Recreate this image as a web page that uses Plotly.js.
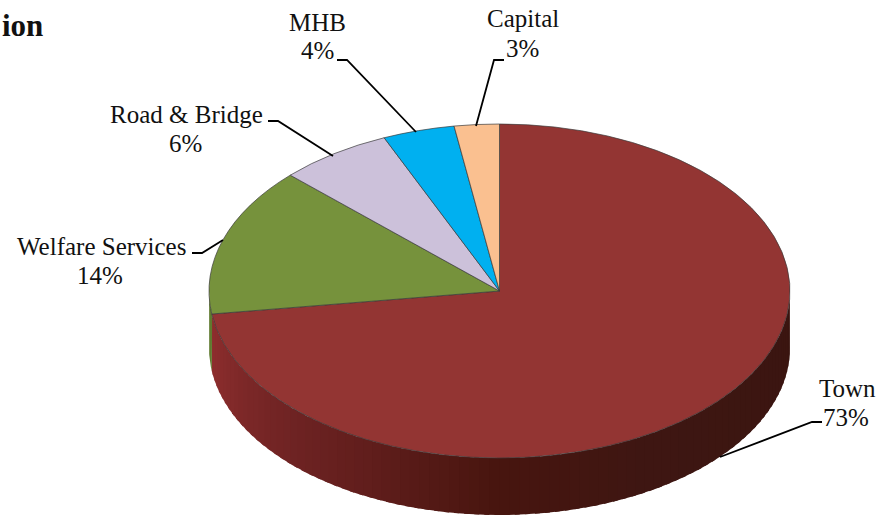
<!DOCTYPE html>
<html>
<head>
<meta charset="utf-8">
<script src="https://cdn.plot.ly/plotly-3.0.1.min.js"></script>
<style>html,body{margin:0;padding:0;background:#fff}#chart{width:880px;height:516px}</style>
</head>
<body>
<div id="chart"></div>
<script>
// Data
var categories = ["Town", "Welfare Services", "Road & Bridge", "MHB", "Capital"];
var shares = [72.8, 14.4, 6.3, 4.0, 2.5];
var shareLabels = ["73%", "14%", "6%", "4%", "3%"];
var sliceColors = ["#933533", "#76923c", "#ccc1da", "#00b0f0", "#fac090"];
var wallDarken = ["#5f7a2f"];

// Ellipse geometry of the tilted disc (pixels)
var CX = 499.5, CY = 291, RX = 290.5, RY = 167, DEPTH = 57;

// Label placement: [name x, name y, share x, share y]
var labelPos = [
  [847, 388, 846, 417],
  [101, 246, 100, 275],
  [186, 114, 185, 143],
  [317, 22, 317, 50],
  [523, 18, 522, 48]
];
var leaders = [
  "M822,422 L812,422 L720,457",
  "M192,253 L202,253 L223,240",
  "M268,121 L278,121 L333,156",
  "M337,60 L347,60 L416,132",
  "M504,60 L494,60 L476,126"
];

var total = shares.reduce(function (a, b) { return a + b; }, 0);
var townEnd = shares[0] / total * 360;

function hex(c) { return [1, 3, 5].map(function (i) { return parseInt(c.substr(i, 2), 16); }); }
var shadeStops = [[90, "#3a1510"], [150, "#3e1612"], [180, "#47150f"], [205, "#5f1d1b"], [225, "#6e2323"], [262, "#8f2e2e"]];
function shade(a) {
  for (var i = 0; i < shadeStops.length - 1; i++) {
    var s = shadeStops[i], e = shadeStops[i + 1];
    if (a <= e[0]) {
      var t = (a - s[0]) / (e[0] - s[0]), p = hex(s[1]), q = hex(e[1]);
      return "rgb(" + p.map(function (v, k) { return Math.round(v + (q[k] - v) * t); }).join(",") + ")";
    }
  }
  return shadeStops[shadeStops.length - 1][1];
}
function strip(a0, a1, color) {
  var xs = [], ys = [], a, r;
  for (a = a0; a <= a1 + 1e-6; a += 0.5) {
    r = a * Math.PI / 180;
    xs.push(CX + RX * Math.sin(r)); ys.push(CY - RY * Math.cos(r));
  }
  for (a = a1; a >= a0 - 1e-6; a -= 0.5) {
    r = a * Math.PI / 180;
    xs.push(CX + RX * Math.sin(r)); ys.push(CY - RY * Math.cos(r) + DEPTH);
  }
  return { type: "scatter", mode: "lines", x: xs, y: ys, fill: "toself", fillcolor: color,
           line: { color: color, width: 0 }, hoverinfo: "skip", showlegend: false };
}

var traces = [];
for (var a = 90; a < townEnd; a += 2) {
  traces.push(strip(a, Math.min(a + 3, townEnd), shade(a + 1)));
}
traces.push(strip(townEnd - 0.5, 272, wallDarken[0]));
traces.push({
  type: "pie", labels: categories, values: shares, sort: false, direction: "clockwise", rotation: 0,
  textinfo: "none", hoverinfo: "label+percent", showlegend: false,
  marker: { colors: sliceColors, line: { color: "#3b3b3b", width: 0.7 } },
  domain: { x: [0.2, 0.8], y: [0.1, 0.9] }
});

var font = { family: "'Liberation Serif', serif", size: 25, color: "#111" };
var annotations = [];
categories.forEach(function (c, i) {
  var p = labelPos[i];
  annotations.push({ x: p[0], y: p[1], text: c.replace("&", "&amp;"), showarrow: false, xanchor: "center", yanchor: "middle", font: font });
  annotations.push({ x: p[2], y: p[3], text: shareLabels[i], showarrow: false, xanchor: "center", yanchor: "middle", font: font });
});
annotations.push({ x: 0, xshift: 0, y: 25, text: "<b>ion</b>", showarrow: false, xanchor: "left", yanchor: "middle",
                   font: { family: "'Liberation Serif', serif", size: 31, color: "#111" } });

var layout = {
  width: 880, height: 516, margin: { l: 0, r: 0, t: 0, b: 0 },
  paper_bgcolor: "#fff", plot_bgcolor: "#fff",
  xaxis: { range: [0, 880], visible: false, fixedrange: true },
  yaxis: { range: [516, 0], visible: false, fixedrange: true },
  annotations: annotations,
  shapes: leaders.map(function (p) {
    return { type: "path", path: p, xref: "x", yref: "y", layer: "above", line: { color: "#000", width: 1.8 } };
  })
};

var gd = document.getElementById("chart");
Plotly.newPlot(gd, traces, layout, { displayModeBar: false }).then(function () {
  // tilt the pie into the disc's top face
  var cd = gd.calcdata.filter(function (c) { return c[0].trace.type === "pie"; })[0][0];
  var g = gd.querySelector(".pielayer");
  g.setAttribute("transform", "translate(" + CX + "," + CY + ") scale(" + (RX / cd.r) + "," + (RY / cd.r) + ") translate(" + (-cd.cx) + "," + (-cd.cy) + ")");
  g.querySelectorAll("path").forEach(function (p) { p.style.vectorEffect = "non-scaling-stroke"; });
});
</script>
</body>
</html>
